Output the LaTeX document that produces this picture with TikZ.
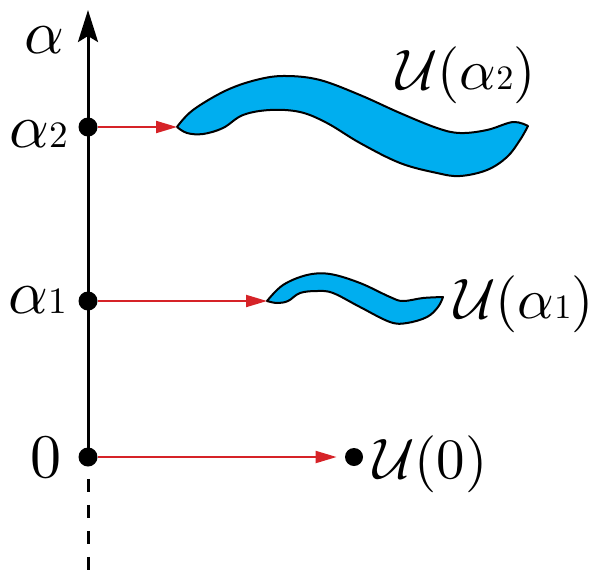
\documentclass[tikz,border=0pt]{standalone}
\usetikzlibrary{arrows.meta}
\definecolor{mapred}{RGB}{214,35,40}
\definecolor{setblue}{RGB}{0,174,239}
\newcommand{\lowidx}[1]{\scalebox{0.6}{#1}}
\tikzset{
  dot/.style={circle,fill=black,inner sep=0pt,minimum size=9.5pt},
  lab/.style={inner sep=0pt,scale=3.1},
  setlab/.style={inner sep=0pt,scale=2.85,anchor=base west},
  maparrow/.style={draw=mapred,line width=1pt,-{Triangle[length=10.5pt,width=6pt]}},
  blob/.style={fill=setblue,draw=black,line width=1pt,line join=round},
}
\begin{document}
\begin{tikzpicture}[x=0.5pt,y=-0.5pt]
  \useasboundingbox (0,0) rectangle (592,579);
  % axis
  \coordinate (top) at (88,10);
  \coordinate (bot) at (88,579);
  \node[dot] (a2) at (88,127) {};
  \node[dot] (a1) at (88,301) {};
  \node[dot] (z) at (88,457) {};
  \draw[line width=1.5pt,-{Stealth[length=16pt,width=10pt,inset=3pt]}] (z.center) -- (top);
  \draw[line width=1.5pt,dash pattern=on 6.5pt off 6.5pt] ([yshift=-6pt]z.south) -- (bot);
  \node[lab,anchor=base east] (la) at (66,53) {$\alpha$};
  \node[lab,anchor=base east] (la2) at (69,147) {$\alpha$\lowidx{2}};
  \node[lab,anchor=base east] (la1) at (68,313) {$\alpha$\lowidx{1}};
  \node[lab,anchor=base east] (lz) at (63,477) {0};
  % the sets
  \coordinate (t2) at (177,127);
  \draw[blob] plot[smooth,tension=0.6] coordinates {(177,127) (193,110) (227,90) (260,79) (287,76) (320,80) (360,95) (400,113) (437,128) (460,133) (487,130) (513,122) (528,126)}
    -- plot[smooth,tension=0.6] coordinates {(528,126) (520,140) (507,157) (487,170) (460,176) (437,173) (400,163) (360,143) (327,123) (300,112) (270,110) (243,115) (223,128) (203,134) (187,133) (177,127)} -- cycle;
  \coordinate (t1) at (267,301);
  \draw[blob] plot[smooth,tension=0.6] coordinates {(267,301) (283,285) (307,275) (330,274) (360,283) (390,297) (403,301) (423,298) (443,297)}
    -- plot[smooth,tension=0.6] coordinates {(443,297) (438,307) (427,317) (407,323) (390,322) (360,307) (333,293) (317,291) (300,293) (288,301) (277,303) (267,301)} -- cycle;
  \node[dot,minimum size=9pt] (u0) at (354,457) {};
  \node[setlab] (lu2) at (395,89) {$\mathcal{U}$($\alpha$\lowidx{2})};
  \node[setlab] (lu1) at (453,318) {$\mathcal{U}$($\alpha$\lowidx{1})};
  \node[setlab] (lu0) at (372,478) {$\mathcal{U}$(0)};
  % maps
  \draw[maparrow] (a2) -- (a2 -| t2);
  \draw[maparrow] (a1) -- (a1 -| t1);
  \draw[maparrow,shorten >=4pt] (z) -- (u0);
\end{tikzpicture}
\end{document}
